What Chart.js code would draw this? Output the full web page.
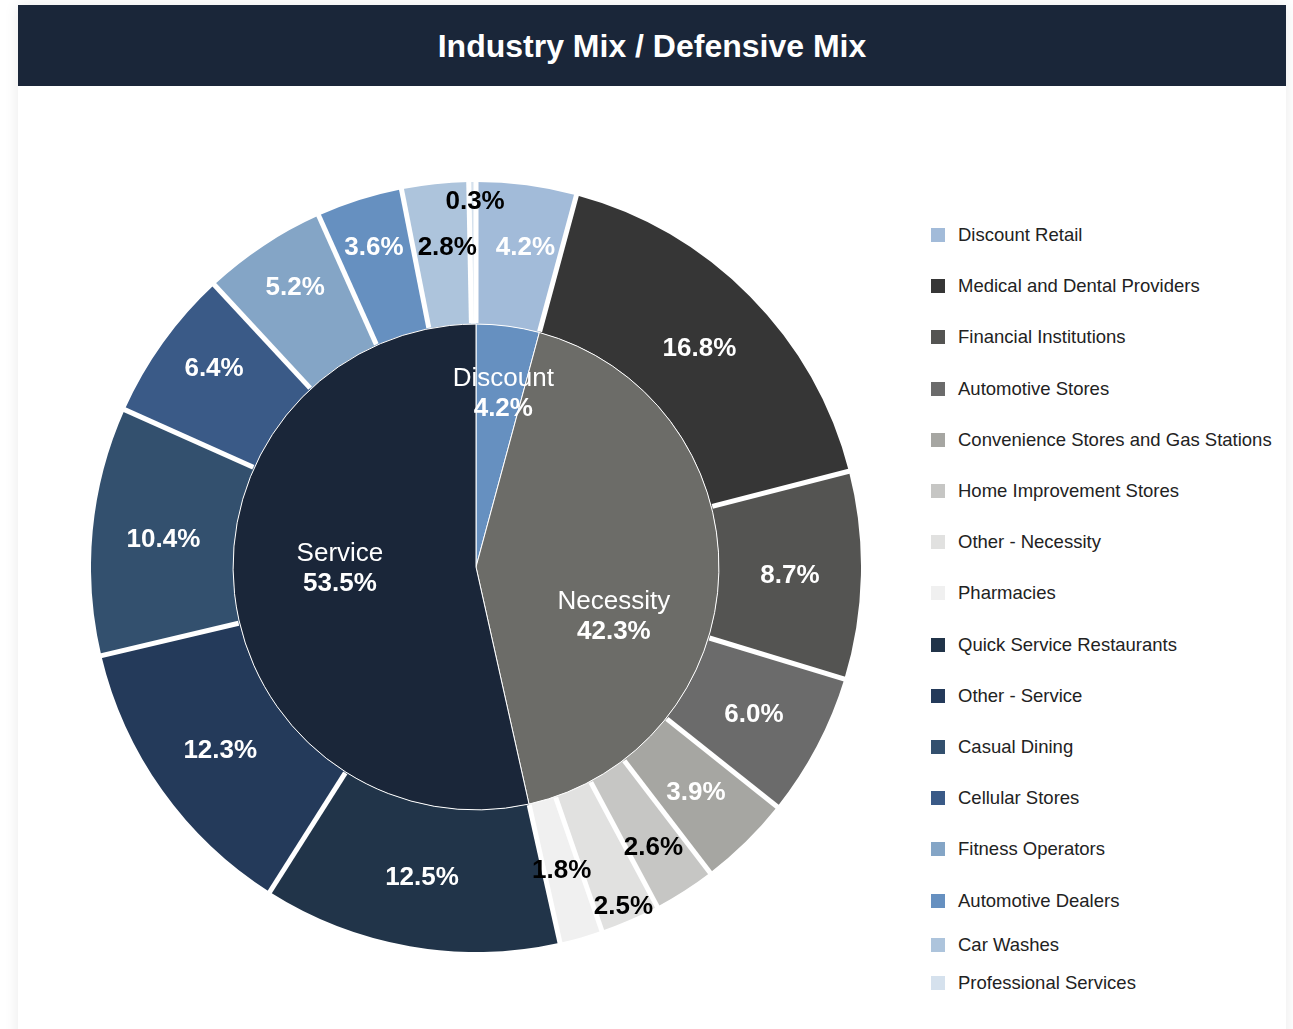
<!DOCTYPE html>
<html>
<head>
<meta charset="utf-8">
<script src="https://cdn.jsdelivr.net/npm/chart.js@4"></script>
<style>
  body { margin: 0; background: #fff; overflow: hidden; font-family: "Liberation Sans", Arial, sans-serif; }
  .panel { position: absolute; left: 18px; top: 5px; width: 1268px; height: 1100px; background: #fff; box-shadow: 0 0 14px rgba(0,0,0,0.09); }
  .title { height: 81px; background: #1a2639; color: #fff; font-weight: bold; font-size: 32px; line-height: 82px; text-align: center; }
  #wrap { position: absolute; left: 72.5px; top: 176.5px; width: 770px; height: 770px; }
  .legend { position: absolute; left: 913px; top: 0; }
  .legend .item { position: absolute; left: 0; white-space: nowrap; font-size: 18.5px; color: #222; line-height: 22px; }
  .legend .sw { display: inline-block; width: 14px; height: 14px; vertical-align: -1px; margin-right: 13px; }
</style>
</head>
<body>
<div class="panel">
  <div class="title">Industry Mix / Defensive Mix</div>
  <div id="wrap"><canvas id="mix"></canvas></div>
  <div class="legend" id="legend"></div>
</div>
<script>
// outer ring: industries
const industries = ['Discount Retail', 'Medical and Dental Providers', 'Financial Institutions', 'Automotive Stores',
  'Convenience Stores and Gas Stations', 'Home Improvement Stores', 'Other - Necessity', 'Pharmacies',
  'Quick Service Restaurants', 'Other - Service', 'Casual Dining', 'Cellular Stores',
  'Fitness Operators', 'Automotive Dealers', 'Car Washes', 'Professional Services'];
const industryShare = [4.2, 16.8, 8.7, 6.0, 3.9, 2.6, 2.5, 1.8, 12.5, 12.3, 10.4, 6.4, 5.2, 3.6, 2.8, 0.3];
const industryColors = ['#a2bbd9', '#363636', '#545452', '#6b6b6b', '#a6a6a2', '#c6c6c4', '#e1e1e0', '#f0f0f0',
  '#213449', '#243a5a', '#33506e', '#3a5a87', '#84a5c6', '#6690c0', '#adc4dc', '#d5e1ed'];

// inner pie: defensive mix
const mixGroups = ['Discount', 'Necessity', 'Service'];
const mixShare = [4.2, 42.3, 53.5];
const mixColors = ['#6690c0', '#6c6c68', '#1a2639'];

// text colour on each outer slice
const darkText = ['Home Improvement Stores', 'Other - Necessity', 'Pharmacies', 'Car Washes', 'Professional Services'];

// legend
const legend = document.getElementById('legend');
const legendGaps = [0, 51.2, 51.2, 51.2, 51.2, 51.2, 51.2, 51.2, 51.2, 51.2, 51.2, 51.2, 51.2, 51.2, 44, 38];
let ly = 219;
industries.forEach((name, i) => {
  ly += legendGaps[i];
  const div = document.createElement('div');
  div.className = 'item';
  div.style.top = ly + 'px';
  div.innerHTML = `<span class="sw" style="background:${industryColors[i]}"></span>${name}`;
  legend.appendChild(div);
});

const sliceLabels = {
  id: 'sliceLabels',
  afterDatasetsDraw(chart) {
    const ctx = chart.ctx;
    ctx.save();
    // white gaps between the outer slices
    const ring = chart.getDatasetMeta(0);
    ctx.strokeStyle = '#fff';
    ctx.lineWidth = 5;
    ring.data.forEach(arc => {
      const p = arc.getProps(['x', 'y', 'startAngle', 'innerRadius', 'outerRadius'], true);
      ctx.beginPath();
      ctx.moveTo(p.x + Math.cos(p.startAngle) * (p.innerRadius + 1), p.y + Math.sin(p.startAngle) * (p.innerRadius + 1));
      ctx.lineTo(p.x + Math.cos(p.startAngle) * (p.outerRadius + 2), p.y + Math.sin(p.startAngle) * (p.outerRadius + 2));
      ctx.stroke();
    });

    ctx.textAlign = 'center';
    ctx.textBaseline = 'middle';
    chart.data.datasets.forEach((ds, di) => {
      const meta = chart.getDatasetMeta(di);
      meta.data.forEach((arc, i) => {
        const p = arc.getProps(['x', 'y', 'startAngle', 'endAngle', 'innerRadius', 'outerRadius'], true);
        const s = (ds.labelShift && ds.labelShift[i]) || {};
        const a = (p.startAngle + p.endAngle) / 2 + (s.a || 0) * Math.PI / 180;
        let r = (p.innerRadius + p.outerRadius) / 2 + (s.dr || 0);
        if (s.f) r = p.outerRadius * s.f;
        const x = p.x + Math.cos(a) * r;
        const y = p.y + Math.sin(a) * r + 2;
        const value = ds.data[i].toFixed(1) + '%';
        if (ds.inner) {
          ctx.fillStyle = '#fff';
          ctx.font = '26px "Liberation Sans", Arial, sans-serif';
          ctx.fillText(ds.names[i], x, y - 15);
          ctx.font = 'bold 26px "Liberation Sans", Arial, sans-serif';
          ctx.fillText(value, x, y + 15);
        } else {
          ctx.fillStyle = darkText.includes(industries[i]) ? '#000' : '#fff';
          ctx.font = 'bold 26px "Liberation Sans", Arial, sans-serif';
          ctx.fillText(value, x, y);
        }
      });
    });
    ctx.restore();
  }
};

new Chart(document.getElementById('mix'), {
  type: 'doughnut',
  data: {
    labels: industries,
    datasets: [{
      data: industryShare,
      backgroundColor: industryColors,
      borderWidth: 0,
      weight: 1,
      order: 1,
      labelShift: {
        0: { dr: 11, a: 1.2 }, 5: { dr: 16.5, a: 0.3 }, 6: { dr: 54.5 }, 11: { dr: 15.5, a: 1.7 },
        12: { dr: 20, a: 0.7 }, 13: { dr: 23 }, 14: { dr: 8, a: 1.0 }, 15: { dr: 53, a: 0.4 }
      }
    }, {
      data: mixShare,
      names: mixGroups,
      inner: true,
      backgroundColor: mixColors,
      borderColor: '#fff',
      borderWidth: 1,
      weight: 1.71,
      order: 0,
      labelShift: { 0: { f: 0.73, a: 1.3 }, 1: { f: 0.6, a: 17.7 }, 2: { f: 0.56, a: 6.3 } }
    }]
  },
  options: {
    responsive: true,
    maintainAspectRatio: false,
    animation: false,
    cutout: 0,
    layout: { padding: 0 },
    plugins: {
      legend: { display: false },
      tooltip: { enabled: false }
    }
  },
  plugins: [sliceLabels]
});
</script>
</body>
</html>
